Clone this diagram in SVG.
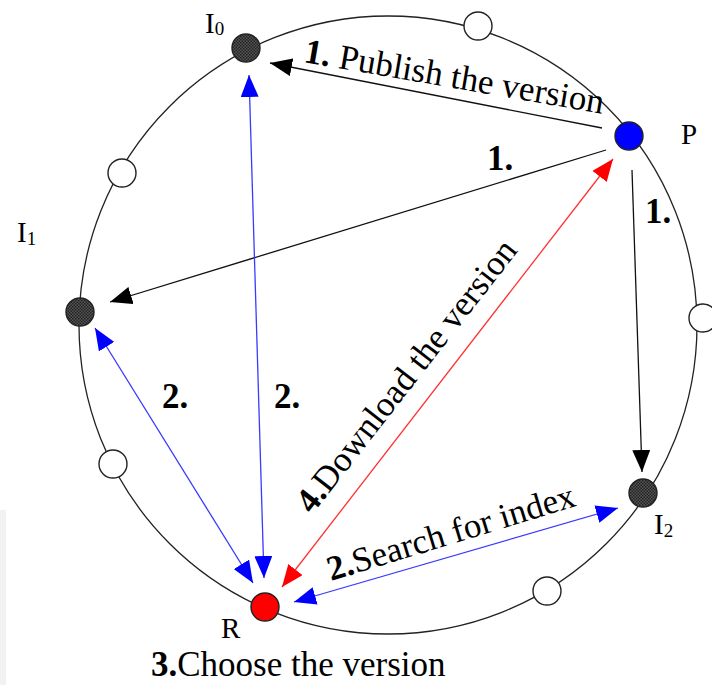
<svg xmlns="http://www.w3.org/2000/svg" width="712" height="685" viewBox="0 0 712 685">
<style>
text{font-family:"Liberation Serif","Times New Roman",serif;fill:#000}
.lbl{font-size:35px}
.nl{font-size:29px}
.sub{font-size:19px}
.b{font-weight:bold}
.ring{fill:none;stroke:#222;stroke-width:1.3}
.wn{fill:#fff;stroke:#222;stroke-width:1.4}
.dn{fill:url(#chk);stroke:#222;stroke-width:1.4}
.blk{stroke:#111;stroke-width:1.3;fill:none}
.blu{stroke:#3a3aff;stroke-width:1.3;fill:none}
.red{stroke:#ff3030;stroke-width:1.3;fill:none}
</style>
<defs>
<pattern id="chk" width="3" height="3" patternUnits="userSpaceOnUse">
<rect width="3" height="3" fill="#555"/>
<rect width="1.5" height="1.5" fill="#222"/>
<rect x="1.5" y="1.5" width="1.5" height="1.5" fill="#222"/>
</pattern>
<marker id="ak" markerUnits="userSpaceOnUse" markerWidth="22" markerHeight="18" viewBox="0 0 22 18" refX="22" refY="9" orient="auto-start-reverse"><path d="M0,0 L22,9 L0,18 z" fill="#000"/></marker>
<marker id="ab" markerUnits="userSpaceOnUse" markerWidth="22" markerHeight="18" viewBox="0 0 22 18" refX="22" refY="9" orient="auto-start-reverse"><path d="M0,0 L22,9 L0,18 z" fill="#0000ff"/></marker>
<marker id="ar" markerUnits="userSpaceOnUse" markerWidth="22" markerHeight="18" viewBox="0 0 22 18" refX="22" refY="9" orient="auto-start-reverse"><path d="M0,0 L22,9 L0,18 z" fill="#ff0000"/></marker>
</defs>
<rect width="712" height="685" fill="#fff"/>
<rect x="0" y="510" width="6" height="175" fill="#f1f2f4"/>
<circle class="ring" cx="388" cy="325" r="309"/>
<g id="connectors">
<line class="blk" x1="602" y1="128" x2="270" y2="63" marker-end="url(#ak)"/>
<line class="blk" x1="606" y1="150" x2="110" y2="302" marker-end="url(#ak)"/>
<line class="blk" x1="632" y1="170" x2="642" y2="472" marker-end="url(#ak)"/>
<line class="blu" x1="249" y1="75" x2="264" y2="578" marker-start="url(#ab)" marker-end="url(#ab)"/>
<line class="blu" x1="95" y1="328" x2="253" y2="583" marker-start="url(#ab)" marker-end="url(#ab)"/>
<line class="red" x1="282" y1="587" x2="613" y2="159" marker-start="url(#ar)" marker-end="url(#ar)"/>
<line class="blu" x1="294" y1="602" x2="618" y2="508" marker-start="url(#ab)" marker-end="url(#ab)"/>
</g>
<g id="n-top"><circle class="wn" cx="478" cy="26" r="14"/></g>
<g id="n-left1"><circle class="wn" cx="122" cy="173" r="14"/></g>
<g id="n-left2"><circle class="wn" cx="113" cy="464" r="14"/></g>
<g id="n-bottom"><circle class="wn" cx="547" cy="591" r="14"/></g>
<g id="n-right"><circle class="wn" cx="703" cy="318" r="14"/></g>
<g id="I0"><circle class="dn" cx="246" cy="48" r="14"/><text class="nl" x="205" y="33">I<tspan class="sub" dy="2">0</tspan></text></g>
<g id="I1"><circle class="dn" cx="80" cy="312" r="14"/><text class="nl" x="17" y="242">I<tspan class="sub" dy="3">1</tspan></text></g>
<g id="I2"><circle class="dn" cx="643" cy="493" r="14"/><text class="nl" x="654" y="534">I<tspan class="sub" dy="3">2</tspan></text></g>
<g id="P"><circle cx="629" cy="136" r="14" fill="#0000ff" stroke="#222" stroke-width="1.4"/><text class="nl" x="681" y="144">P</text></g>
<g id="R"><circle cx="265" cy="607" r="14" fill="#ff0000" stroke="#222" stroke-width="1.4"/><text class="nl" x="221" y="638">R</text></g>
<g id="labels">
<text class="lbl" transform="translate(303,62) rotate(9.8)"><tspan class="b">1.</tspan> Publish the version</text>
<text class="lbl b" x="487" y="170">1.</text>
<text class="lbl b" x="645" y="223">1.</text>
<text class="lbl b" x="162" y="408">2.</text>
<text class="lbl b" x="274" y="408">2.</text>
<text class="lbl" transform="translate(312,515) rotate(-52)"><tspan class="b">4.</tspan>Download the version</text>
<text class="lbl" transform="translate(331,581) rotate(-17)"><tspan class="b">2.</tspan>Search for index</text>
<text class="lbl" x="151" y="676"><tspan class="b">3.</tspan>Choose the version</text>
</g>
</svg>
